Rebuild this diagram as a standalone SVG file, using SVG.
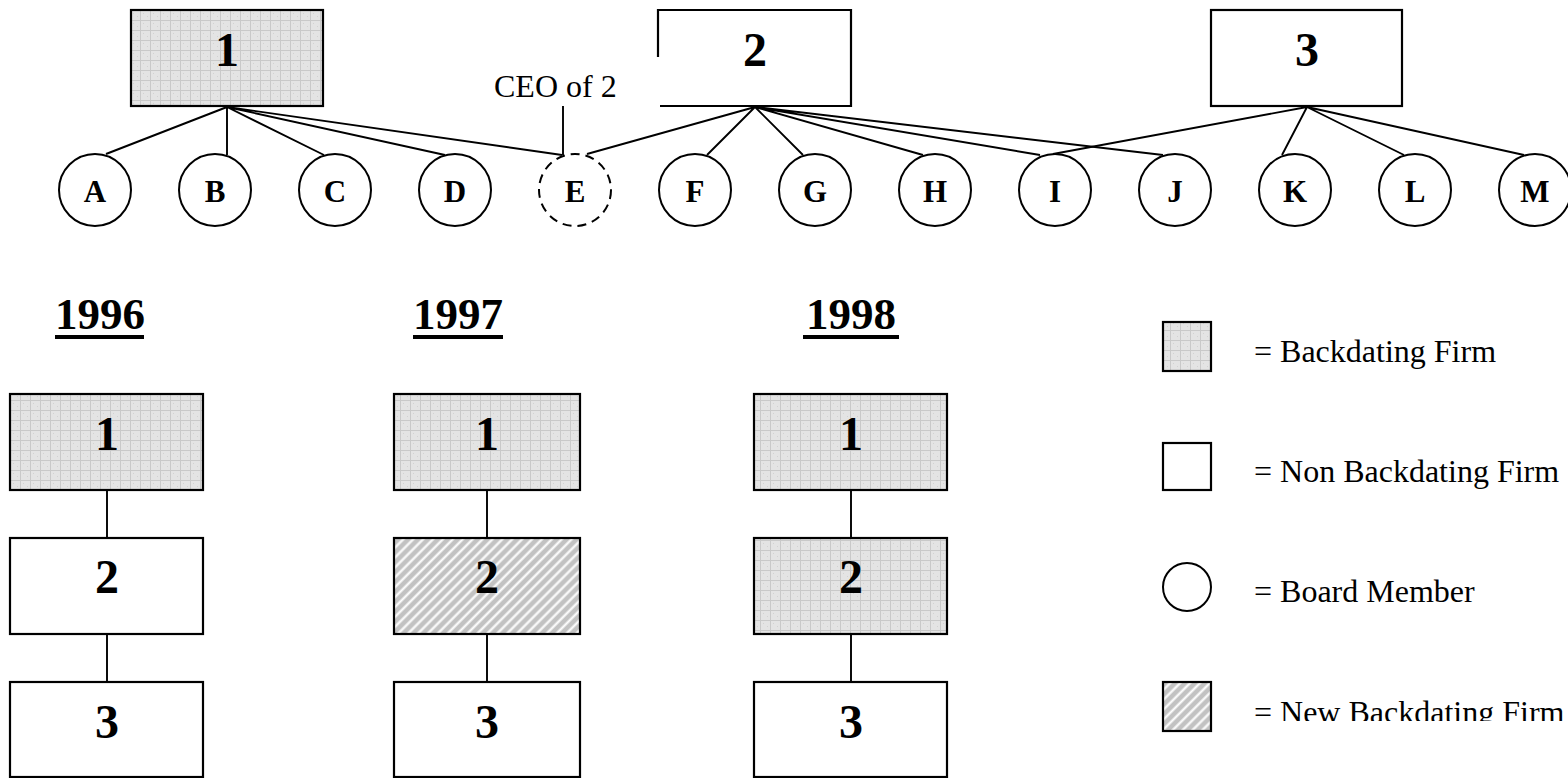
<svg xmlns="http://www.w3.org/2000/svg" width="1568" height="778" viewBox="0 0 1568 778">
<style>
.box{stroke:#000;stroke-width:2.2}
.plain{fill:#fff}
.bd{fill:url(#grid)}
.nbd{fill:url(#hatch)}
.circ{fill:#fff;stroke:#000;stroke-width:2}
.dash{stroke-dasharray:9 6}
.ln{stroke:#000;stroke-width:1.9;fill:none}
.dig{font-family:"Liberation Serif",serif;font-weight:bold;font-size:48px;text-anchor:middle;fill:#000}
.let{font-family:"Liberation Serif",serif;font-weight:bold;font-size:31px;text-anchor:middle;fill:#000}
.yr{font-family:"Liberation Serif",serif;font-weight:bold;font-size:45px;text-anchor:middle;fill:#000}
.lab{font-family:"Liberation Serif",serif;font-size:32px;fill:#000}
</style>
<defs>
<pattern id="grid" width="10" height="10" patternUnits="userSpaceOnUse">
<rect width="10" height="10" fill="#e4e4e4"/>
<path d="M0 0.5H10M0.5 0V10" stroke="#c9c9c9" stroke-width="1"/>
<rect x="3" y="3" width="1" height="1" fill="#d2d2d2"/>
<rect x="7" y="6" width="1" height="1" fill="#d2d2d2"/>
</pattern>
<pattern id="hatch" width="7" height="7" patternUnits="userSpaceOnUse" patternTransform="rotate(45)">
<rect width="7" height="7" fill="#c2c2c2"/>
<line x1="1.5" y1="0" x2="1.5" y2="7" stroke="#fff" stroke-width="2.2"/>
</pattern>
<clipPath id="clipNew"><rect x="1240" y="680" width="328" height="41"/></clipPath>
</defs>

<g id="connectors">
<path class="ln" d="M227 107L106 154M227 107L227 155M227 107L324 155M227 107L445 155M227 107L562 155"/>
<path class="ln" d="M755 107L587 154M755 107L707 155M755 107L803 155M755 107L923 155M755 107L1040 155M755 107L1163 155"/>
<path class="ln" d="M1307 107L1053 154M1307 107L1282 155M1307 107L1404 155M1307 107L1524 155"/>
<path class="ln" d="M563 106V155"/>
<path class="ln" d="M107 490V538M107 634V682"/>
<path class="ln" d="M487 490V538M487 634V682"/>
<path class="ln" d="M851 490V538M851 634V682"/>
</g>

<g id="top-firm-1"><rect class="box bd" x="131" y="10" width="192" height="96"/><text class="dig" x="227" y="66">1</text></g>
<g id="top-firm-2"><rect class="plain" x="658" y="10" width="193" height="96"/><path class="box" fill="none" d="M658 57V10H851V106H660"/><text class="dig" x="755" y="66">2</text></g>
<g id="top-firm-3"><rect class="box plain" x="1211" y="10" width="191" height="96"/><text class="dig" x="1307" y="66">3</text></g>

<g id="ceo-label"><text class="lab" x="494" y="97">CEO of 2</text></g>

<g id="member-A"><circle class="circ" cx="95" cy="190" r="36"/><text class="let" x="95" y="202">A</text></g>
<g id="member-B"><circle class="circ" cx="215" cy="190" r="36"/><text class="let" x="215" y="202">B</text></g>
<g id="member-C"><circle class="circ" cx="335" cy="190" r="36"/><text class="let" x="335" y="202">C</text></g>
<g id="member-D"><circle class="circ" cx="455" cy="190" r="36"/><text class="let" x="455" y="202">D</text></g>
<g id="member-E"><circle class="circ dash" cx="575" cy="190" r="36"/><text class="let" x="575" y="202">E</text></g>
<g id="member-F"><circle class="circ" cx="695" cy="190" r="36"/><text class="let" x="695" y="202">F</text></g>
<g id="member-G"><circle class="circ" cx="815" cy="190" r="36"/><text class="let" x="815" y="202">G</text></g>
<g id="member-H"><circle class="circ" cx="935" cy="190" r="36"/><text class="let" x="935" y="202">H</text></g>
<g id="member-I"><circle class="circ" cx="1055" cy="190" r="36"/><text class="let" x="1055" y="202">I</text></g>
<g id="member-J"><circle class="circ" cx="1175" cy="190" r="36"/><text class="let" x="1175" y="202">J</text></g>
<g id="member-K"><circle class="circ" cx="1295" cy="190" r="36"/><text class="let" x="1295" y="202">K</text></g>
<g id="member-L"><circle class="circ" cx="1415" cy="190" r="36"/><text class="let" x="1415" y="202">L</text></g>
<g id="member-M"><circle class="circ" cx="1535" cy="190" r="36"/><text class="let" x="1535" y="202">M</text></g>

<g id="year-1996"><text class="yr" x="100" y="329">1996</text><rect x="55" y="335" width="89" height="4" fill="#000"/></g>
<g id="year-1997"><text class="yr" x="458" y="329">1997</text><rect x="413" y="335" width="90" height="4" fill="#000"/></g>
<g id="year-1998"><text class="yr" x="851" y="329">1998</text><rect x="803" y="335" width="96" height="4" fill="#000"/></g>

<g id="y1996-firm-1"><rect class="box bd" x="10" y="394" width="193" height="96"/><text class="dig" x="107" y="450">1</text></g>
<g id="y1996-firm-2"><rect class="box plain" x="10" y="538" width="193" height="96"/><text class="dig" x="107" y="593">2</text></g>
<g id="y1996-firm-3"><rect class="box plain" x="10" y="682" width="193" height="95"/><text class="dig" x="107" y="738">3</text></g>

<g id="y1997-firm-1"><rect class="box bd" x="394" y="394" width="186" height="96"/><text class="dig" x="487" y="450">1</text></g>
<g id="y1997-firm-2"><rect class="box nbd" x="394" y="538" width="186" height="96"/><text class="dig" x="487" y="593">2</text></g>
<g id="y1997-firm-3"><rect class="box plain" x="394" y="682" width="186" height="95"/><text class="dig" x="487" y="738">3</text></g>

<g id="y1998-firm-1"><rect class="box bd" x="754" y="394" width="193" height="96"/><text class="dig" x="851" y="450">1</text></g>
<g id="y1998-firm-2"><rect class="box bd" x="754" y="538" width="193" height="96"/><text class="dig" x="851" y="593">2</text></g>
<g id="y1998-firm-3"><rect class="box plain" x="754" y="682" width="193" height="95"/><text class="dig" x="851" y="738">3</text></g>

<g id="legend-backdating"><rect class="box bd" x="1163" y="322" width="48" height="49"/><text class="lab" x="1254" y="362">= Backdating Firm</text></g>
<g id="legend-non-backdating"><rect class="box plain" x="1163" y="443" width="48" height="47"/><text class="lab" x="1254" y="482">= Non Backdating Firm</text></g>
<g id="legend-board-member"><circle class="circ" cx="1187" cy="587" r="24"/><text class="lab" x="1254" y="602">= Board Member</text></g>
<g id="legend-new-backdating"><rect class="box nbd" x="1163" y="682" width="48" height="49"/><text class="lab" x="1254" y="723" clip-path="url(#clipNew)">= New Backdating Firm</text></g>
</svg>
